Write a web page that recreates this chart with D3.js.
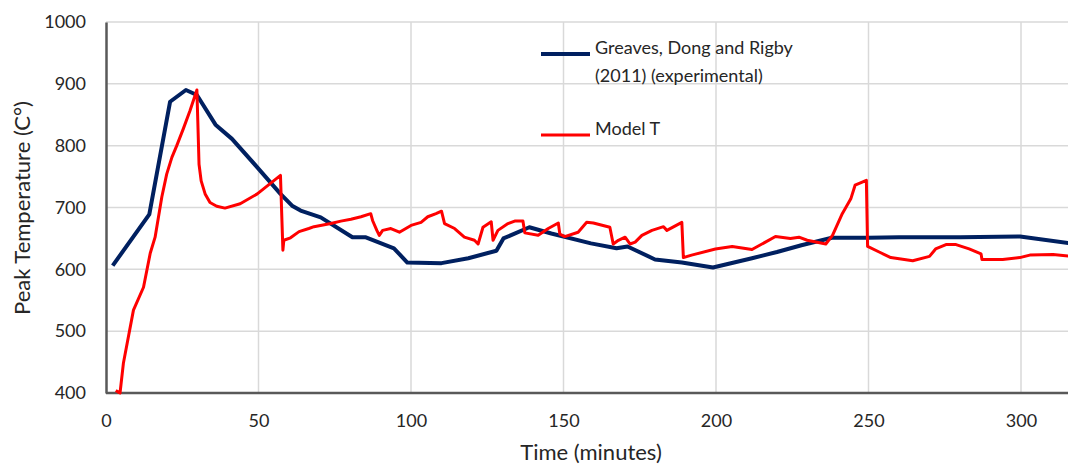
<!DOCTYPE html>
<html>
<head>
<meta charset="utf-8">
<script src="https://cdn.jsdelivr.net/npm/d3@7"></script>
<style>
  body { margin: 0; background: #fff; }
  svg { display: block; font-family: Lato, "Liberation Sans", sans-serif; }
</style>
</head>
<body>
<div id="chart"></div>
<script>
// Greaves, Dong and Rigby (2011) (experimental)
var greavesTime = [2.2, 14.2, 21, 26.2, 29.8, 35.9, 41.3, 49.6, 57.2, 61, 63.8, 70.4, 80.8, 85, 94.4, 98.8, 110, 118.8, 128, 130.3, 138.8, 146, 159, 167.4, 171, 180, 188.8, 199, 211.8, 220, 228, 238, 250, 260, 280, 299.7, 316.4];
var greavesTemp = [606, 689, 871, 890, 882, 834, 811, 765, 722, 703, 695, 684, 652, 652, 634, 611, 610, 618, 630, 650, 668, 658, 642, 634, 637, 616, 611, 603, 618, 628, 639, 651, 651, 652, 652, 653, 642];

// Model T
var modelTime = [3.2, 4.2, 4.6, 5.7, 9, 12.3, 14.5, 16.1, 18.3, 19.9, 21.6, 23.2, 25.4, 27.5, 29.8,
  30.1, 30.5, 31.2, 32.5, 34.1, 36.3, 39, 44, 49.6, 57.2,
  58, 58.3, 60.5, 63.3, 66.5, 68.2, 73.7, 77, 80.3, 83.6, 86.8, 87.4, 88.8, 89.6, 90.7, 93.4, 96.2, 100, 103.3, 105.5, 108.2, 110,
  111, 114.3, 117.5, 120.8, 122, 123.6, 126.3, 126.9, 128.5, 131.8, 134, 136.7, 137.3, 141.7, 145, 148.3, 148.8, 150.4, 154.8,
  157.6, 159.8, 165.2, 166.3, 168, 170.2, 171.8, 173.5, 175.7, 179, 182.8, 183.9, 188.8, 189.3, 192, 199.8, 205.3, 211.8,
  216.2, 219.5, 224.4, 227.2, 229.9, 236, 238.2, 241.4, 244.2, 245.6, 249.3, 249.7, 253.5, 257.3, 264.5, 270, 272, 275.4,
  278.7, 283, 286.9, 287.2, 294, 299.6, 302.9, 310.5, 316.4];
var modelTemp = [404, 401, 400, 448, 534, 571, 626, 652, 717, 754, 781, 800, 828, 856, 890,
  840, 770, 743, 722, 708, 702, 699, 706, 722, 752,
  631, 647, 651, 661, 666, 669, 674, 678, 681, 685, 690, 679, 663, 655, 663, 666, 660, 671, 676, 685, 690, 694,
  674, 666, 652, 647, 641, 668, 677, 647, 663, 674, 678, 678, 659, 655, 666, 675, 657, 653, 660,
  676, 675, 668, 641, 647, 652, 641, 644, 655, 663, 669, 663, 676, 619, 623, 633, 637, 632,
  644, 653, 650, 652, 647, 641, 655, 690, 714, 736, 744, 637, 628, 619, 614, 621, 633, 640,
  640, 633, 625, 616, 616, 619, 623, 624, 621];

var xTicks = [0, 50, 100, 150, 200, 250, 300];
var yTicks = [400, 500, 600, 700, 800, 900, 1000];
var legendLabels = [["Greaves, Dong and Rigby", "(2011) (experimental)"], ["Model T"]];

var width = 1068;
var height = 467;
var marginLeft = 106, plotTop = 22, plotBottom = 393;

var x = d3.scaleLinear().domain([0, 320]).range([marginLeft, marginLeft + 320 * 3.05]);
var y = d3.scaleLinear().domain([400, 1000]).range([plotBottom, plotTop]);

var svg = d3.select("#chart")
  .append("svg")
  .attr("width", width)
  .attr("height", height);

// gridlines
svg.append("g")
  .selectAll("line")
  .data(yTicks.slice(1))
  .join("line")
  .attr("x1", marginLeft).attr("x2", width)
  .attr("y1", function (d) { return y(d); })
  .attr("y2", function (d) { return y(d); })
  .style("stroke", "#d9d9d9")
  .style("stroke-width", 1.5);

svg.append("g")
  .selectAll("line")
  .data(xTicks.slice(1))
  .join("line")
  .attr("x1", function (d) { return x(d); })
  .attr("x2", function (d) { return x(d); })
  .attr("y1", plotTop).attr("y2", plotBottom)
  .style("stroke", "#d9d9d9")
  .style("stroke-width", 1.5);

// axes
var xAxis = svg.append("g")
  .attr("transform", "translate(0," + plotBottom + ")")
  .call(d3.axisBottom(x).tickValues(xTicks).tickFormat(d3.format("d")).tickSize(0).tickPadding(21));
xAxis.select(".domain").attr("d", "M" + marginLeft + ",0H" + width).style("stroke", "#595959").style("stroke-width", 2.5);

var yAxis = svg.append("g")
  .attr("transform", "translate(" + marginLeft + ",0)")
  .call(d3.axisLeft(y).tickValues(yTicks).tickFormat(d3.format("d")).tickSize(0).tickPadding(20));
yAxis.select(".domain").style("stroke", "#595959").style("stroke-width", 2.5);

svg.selectAll(".tick text")
  .style("font-family", "Lato, 'Liberation Sans', sans-serif")
  .style("font-size", "18px")
  .style("fill", "#262626");

// lines
var line = d3.line()
  .x(function (d) { return x(d[0]); })
  .y(function (d) { return y(d[1]); });

svg.append("path")
  .datum(d3.zip(greavesTime, greavesTemp))
  .attr("d", line)
  .style("fill", "none")
  .style("stroke", "#002060")
  .style("stroke-width", 4)
  .style("stroke-linejoin", "round");

svg.append("path")
  .datum(d3.zip(modelTime, modelTemp))
  .attr("d", line)
  .style("fill", "none")
  .style("stroke", "#ff0000")
  .style("stroke-width", 3)
  .style("stroke-linejoin", "round");

// axis titles
svg.append("text")
  .attr("x", 591)
  .attr("y", 460)
  .attr("text-anchor", "middle")
  .style("font-size", "22px")
  .style("fill", "#262626")
  .text("Time (minutes)");

svg.append("text")
  .attr("transform", "translate(30,208) rotate(-90)")
  .attr("text-anchor", "middle")
  .style("font-size", "22px")
  .style("fill", "#262626")
  .text("Peak Temperature (C\u00b0)");

// legend
var legendColors = ["#002060", "#ff0000"];
var legendY = [54, 135];
var legend = svg.append("g")
  .selectAll("g")
  .data(legendLabels)
  .join("g")
  .attr("transform", function (d, i) { return "translate(541," + legendY[i] + ")"; });

legend.append("line")
  .attr("x1", 0).attr("x2", 49)
  .style("stroke", function (d, i) { return legendColors[i]; })
  .style("stroke-width", function (d, i) { return i == 0 ? 4 : 3; });

legend.append("text")
  .attr("x", 54)
  .attr("dy", "0.35em")
  .style("font-size", "18px")
  .style("fill", "#262626")
  .selectAll("tspan")
  .data(function (d) { return d; })
  .join("tspan")
  .attr("x", 54)
  .attr("dy", function (d, i) { return i == 0 ? 0 : 28; })
  .text(function (d) { return d; });
</script>
</body>
</html>
